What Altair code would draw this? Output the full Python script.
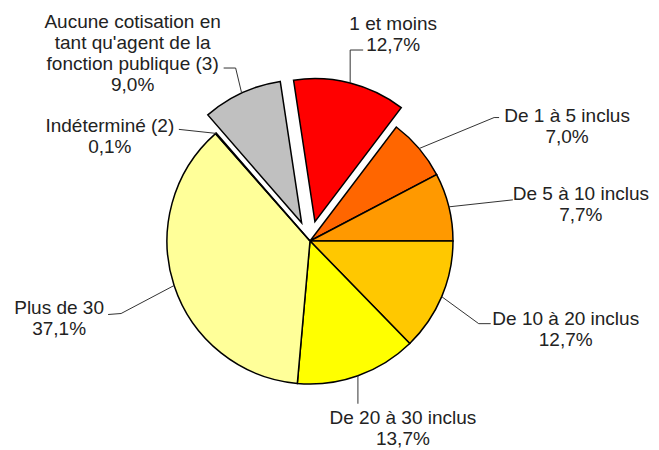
import math
import altair as alt
import pandas as pd

# ---- data ----
categories = [
    "1 et moins",
    "De 1 à 5 inclus",
    "De 5 à 10 inclus",
    "De 10 à 20 inclus",
    "De 20 à 30 inclus",
    "Plus de 30",
    "Indéterminé (2)",
    "Aucune cotisation en\ntant qu'agent de la\nfonction publique (3)",
]
values = [12.7, 7.0, 7.7, 12.7, 13.7, 37.1, 0.1, 9.0]
colors = ["#FF0000", "#FF6600", "#FF9900", "#FFC800", "#FFFF00", "#FFFF99", "#FFFFCC", "#C0C0C0"]
exploded_categories = [categories[0], categories[7]]

# ---- style / layout ----
START = -0.15          # angle of first slice (radians)
R = 143                # pie radius
CX, CY = 302, 233      # pie centre in chart pixels
EXPLODE = 20           # explosion distance
# leader-line elbow, end and label nudges relative to the slice edge point
layout = {
    categories[0]: ((0, -33), (13, -33), (43, -53)),
    categories[1]: ((75, -31), (80, -31), (148, -27)),
    categories[2]: ((64, -7), (64, -7), (132, -7)),
    categories[3]: ((37, 27), (49, 27), (124, 28)),
    categories[4]: ((0, 28), (0, 28), (45, 48)),
    categories[5]: ((-53, 28), (-66, 29), (-115, 28)),
    categories[6]: ((-37, -4), (-37, -4), (-106, -1)),
    categories[7]: ((-6, -25), (-18, -25), (-109, -65)),
}

TOTAL = sum(values)

rows = []
for i, (c, v, col) in enumerate(zip(categories, values, colors)):
    (bdx, bdy), (tdx, tdy), (ldx, ldy) = layout[c]
    rows.append(dict(
        order=i, category=c, value=v, color=col,
        label=c + "\n" + f"{v:.1f}".replace(".", ",") + "%",
        explode=EXPLODE if c in exploded_categories else 0,
        bdx=bdx, bdy=bdy, tdx=tdx, tdy=tdy, ldx=ldx, ldy=ldy,
    ))
df = pd.DataFrame(rows)

base = alt.Chart(df).transform_window(
    v1="sum(value)", sort=[alt.SortField("order")], frame=[None, 0]
).transform_joinaggregate(
    total="sum(value)"
).transform_calculate(
    v0="datum.v1 - datum.value",
    mid=f"{START} + PI * (2 * datum.v1 - datum.value) / datum.total",
    cx=f"{CX} + datum.explode * sin(datum.mid)",
    cy=f"{CY} - datum.explode * cos(datum.mid)",
    ex=f"datum.cx + {R} * sin(datum.mid)",
    ey=f"datum.cy - {R} * cos(datum.mid)",
    bx="datum.ex + datum.bdx",
    by="datum.ey + datum.bdy",
    tx="datum.ex + datum.tdx",
    ty="datum.ey + datum.tdy",
    lx="datum.ex + datum.ldx",
    ly="datum.ey + datum.ldy",
)

pie = base.mark_arc(outerRadius=R, stroke="#000000", strokeWidth=1.5).encode(
    x=alt.X("cx:Q", scale=None),
    y=alt.Y("cy:Q", scale=None),
    theta=alt.Theta("v0:Q", stack=False,
                    scale=alt.Scale(domain=[0, TOTAL], range=[START, START + 2 * math.pi])),
    theta2="v1:Q",
    fill=alt.Fill("color:N", scale=None),
)

seg1 = base.mark_rule(stroke="#333333", strokeWidth=1).encode(
    x=alt.X("ex:Q", scale=None), y=alt.Y("ey:Q", scale=None),
    x2="bx:Q", y2="by:Q",
)
seg2 = base.mark_rule(stroke="#333333", strokeWidth=1).encode(
    x=alt.X("bx:Q", scale=None), y=alt.Y("by:Q", scale=None),
    x2="tx:Q", y2="ty:Q",
)

text = base.mark_text(
    align="center", baseline="alphabetic", fontSize=19, font="Liberation Sans",
    lineBreak="\n", lineHeight=21, color="#222222",
).encode(
    x=alt.X("lx:Q", scale=None), y=alt.Y("ly:Q", scale=None),
    text="label:N",
)

chart = alt.layer(pie, seg1, seg2, text).properties(
    width=643, height=442,
    autosize=alt.AutoSizeParams(type="none"),
    padding=0,
).configure_view(strokeWidth=0)

chart.save("out.html", embed_options={"renderer": "svg", "actions": False})
